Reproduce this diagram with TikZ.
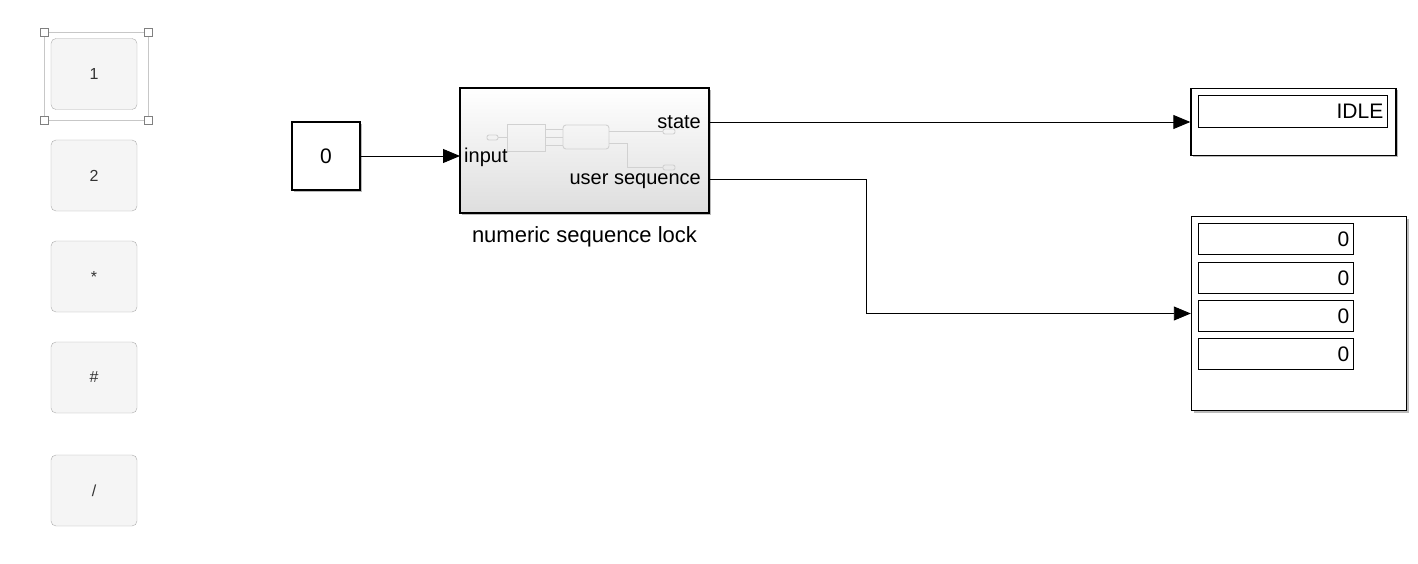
\documentclass[tikz,border=0pt]{standalone}
\usepackage{fontspec}
\setmainfont{Liberation Sans}
\usetikzlibrary{arrows.meta,shadows,positioning}

\begin{document}
\begin{tikzpicture}[x=1pt, y=-1pt, line join=miter,
    button/.style={draw=black!33, fill=black!4, rounded corners=5pt, minimum width=86pt, minimum height=71pt, text=black!80, font=\fontsize{16}{18}\selectfont},
    handle/.style={draw=black!50, fill=white, line width=0.8pt, minimum size=8pt, inner sep=0pt},
    block/.style={draw=black, line width=1.4pt, fill=white, drop shadow={shadow xshift=2pt, shadow yshift=-2pt, fill=black!45, opacity=0.6}},
    readout/.style={draw=black, line width=0.9pt, minimum height=32pt, inner sep=4pt, align=right, font=\fontsize{21}{24}\selectfont},
    port/.style={font=\fontsize{20}{22}\selectfont, inner sep=0pt},
    mini/.style={draw=black!18, line width=0.9pt},
    wire/.style={line width=0.9pt, -{Triangle[length=17pt, width=14pt]}}]
  \useasboundingbox (0,0) rectangle (1418,564);

  % keypad buttons
  \node[button] (b1) at (94,74) {1};
  \node[button] (b2) at (94,175.5) {2};
  \node[button] (bstar) at (94,276.5) {*};
  \node[button] (bhash) at (94,377.5) {\#};
  \node[button] (bslash) at (94,490.5) {/};

  % selection frame round button 1
  \draw[black!22, line width=0.9pt] (44.5,32) rectangle (148.5,120);
  \node[handle] (h1) at (44.5,32) {};
  \node[handle] (h2) at (148.5,32) {};
  \node[handle] (h3) at (44.5,120) {};
  \node[handle] (h4) at (148.5,120) {};

  % constant and subsystem
  \node[block, minimum width=68pt, minimum height=68pt, font=\fontsize{21}{24}\selectfont] (const) at (326,156) {0};
  \node[block, top color=white, bottom color=black!13, minimum width=249pt, minimum height=125pt] (lock) at (584.5,150.5) {};
  \node[font=\fontsize{22}{24}\selectfont, below=9pt of lock] (lockname) {numeric sequence lock};

  % contents preview
  \draw[mini, rounded corners=2pt] (487,135) rectangle (498,140);
  \draw[mini] (498,137.5) -- (507,137.5);
  \draw[mini] (507,124) rectangle (545,151);
  \draw[mini] (545,129.5) -- (563,129.5) (545,137.5) -- (563,137.5) (545,145) -- (563,145);
  \draw[mini, rounded corners=3pt] (563,125) rectangle (609,149);
  \draw[mini] (609,131) -- (663,131);
  \draw[mini] (609,143) -- (627,143) -- (627,167) -- (663,167);
  \draw[mini, rounded corners=2pt] (663,129) rectangle (675,134);
  \draw[mini, rounded corners=2pt] (663,165) rectangle (675,170);

  \coordinate (lockIn) at (460,156);
  \coordinate (lockState) at (709,122);
  \coordinate (lockSeq) at (709,179);
  \node[port, anchor=base west] (inlabel) at (464,163) {input};
  \node[port, anchor=base east] (statelabel) at (701,129) {state};
  \node[port, anchor=base east] (seqlabel) at (701,185) {user sequence};

  % displays
  \node[block, minimum width=205pt, minimum height=67pt] (stateDisp) at (1293.5,122) {};
  \node[readout, text width=181pt] (idle) at (1292.8,111) {IDLE};
  \node[block, minimum width=215pt, minimum height=194pt] (seqDisp) at (1299,313.5) {};
  \foreach \y [count=\i] in {239,277.8,315.8,354.2}
    \node[readout, minimum height=31pt, text width=147pt] (seq\i) at (1275.8,\y) {0};

  % signal lines
  \draw[wire] (const.east) -- (lockIn);
  \draw[wire] (lockState) -- (stateDisp.west);
  \draw[wire] (lockSeq) -- (866,179) |- (seqDisp.west);
\end{tikzpicture}
\end{document}
